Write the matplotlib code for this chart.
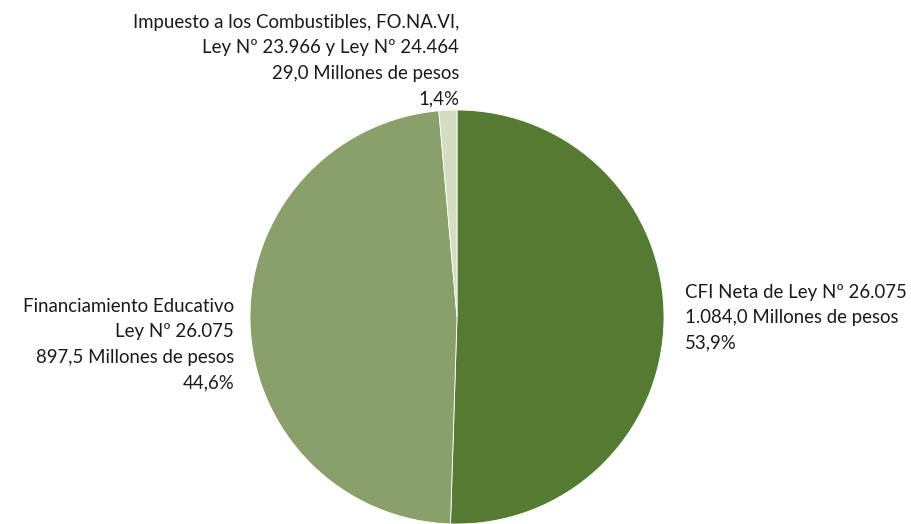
import matplotlib
matplotlib.use('Agg')
import matplotlib.pyplot as plt

plt.rcParams['font.family'] = ['Lato', 'DejaVu Sans']

names = ['CFI Neta de Ley Nº 26.075',
         'Financiamiento Educativo\nLey Nº 26.075',
         'Impuesto a los Combustibles, FO.NA.VI,\nLey Nº 23.966 y Ley Nº 24.464']
values = ['1.084,0', '897,5', '29,0']          # millones de pesos (as printed)
pcts = ['53,9', '44,6', '1,4']                 # percentages as printed
shares = [50.5, 48.1, 1.4]                     # wedge sizes as drawn in the picture
colors = ['#557b32', '#89a06b', '#d2ddc4']

labels = [n + '\n' + v + ' Millones de pesos\n' + p + '%'
          for n, v, p in zip(names, values, pcts)]

fig = plt.figure(figsize=(9.12, 5.24), dpi=100)
ax = fig.add_axes([0, 0, 1, 1])

ax.pie(shares, colors=colors, startangle=90, counterclock=False,
       center=(457, 207), radius=207,
       wedgeprops=dict(edgecolor='white', linewidth=0.6), frame=True)
ax.set_xlim(0, 912)
ax.set_ylim(0, 524)
ax.set_aspect('equal')
ax.axis('off')

tkw = dict(fontsize=13.4, color='#1a1a1a', linespacing=1.6)
ax.text(685, 524 - 284, labels[0], ha='left', va='top', **tkw)
ax.text(234, 524 - 298, labels[1], ha='right', va='top', **tkw)
ax.text(459, 524 - 14, labels[2], ha='right', va='top', **tkw)

fig.savefig('out.png', dpi=100)
